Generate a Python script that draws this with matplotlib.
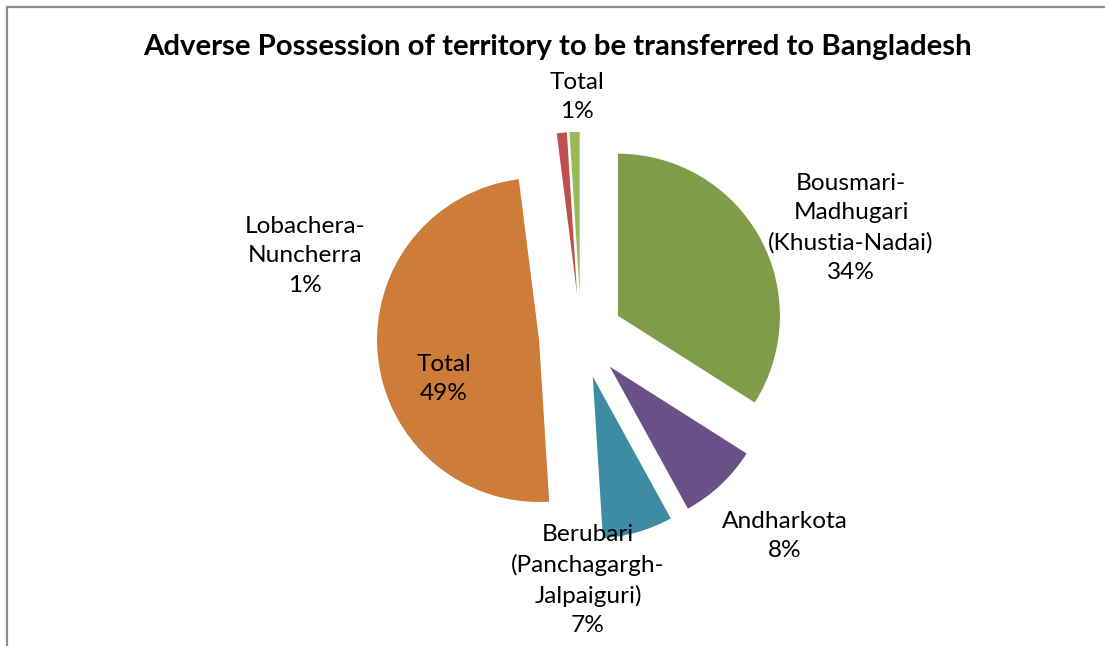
import matplotlib
matplotlib.use("Agg")
import matplotlib.pyplot as plt
from matplotlib.patches import Rectangle
import numpy as np

# Data (clockwise from 12 o'clock)
categories = ["Bousmari-\nMadhugari\n(Khustia-Nadai)", "Andharkota",
              "Berubari\n(Panchagargh-\nJalpaiguri)", "Total",
              "Lobachera-\nNuncherra", "Total"]
values = [34, 8, 7, 49, 1, 1]
colors = ["#7F9C49", "#6A5086", "#3D8CA3", "#CD7C3A", "#C0504D", "#9BBB59"]
pct_labels = ["34%", "8%", "7%", "49%", "1%", "1%"]

title = "Adverse Possession of territory to be transferred to Bangladesh"

W, H = 1105, 646
DPI = 100
fig = plt.figure(figsize=(W / DPI, H / DPI), dpi=DPI)
fig.patch.set_facecolor("white")

# pie geometry in pixels
cx, cy, R = 581, 336, 162
ax = fig.add_axes([0, 0, 1, 1])
ax.axis("off")

explode = [0.26] * len(values)
wedges, _ = ax.pie(values, colors=colors, startangle=90, counterclock=False,
                   explode=explode, radius=1.0, center=(0, 0), frame=False,
                   wedgeprops=dict(linewidth=0))
ax.set_xlim(-cx / R, (W - cx) / R)
ax.set_ylim(-(H - cy) / R, cy / R)
ax.set_aspect("auto")

font = "Lato"
label_px = [(851, 228), (785, 536), (588, 580), (444, 379), (305, 256), (577, 97)]
for cat, pct, (px, py) in zip(categories, pct_labels, label_px):
    ax.text((px - cx) / R, (cy - py) / R, f"{cat}\n{pct}", ha="center", va="center",
            fontsize=17.6, family=font, linespacing=1.5, color="black")

fig.text(557 / W, 1 - 47 / H, title, ha="center", va="center", fontsize=21.2,
         fontweight="bold", family=font)

# chart frame
fig.patches.append(Rectangle((6.5 / W, -0.1), 1.2, 1 - 6.5 / H + 0.1,
                             transform=fig.transFigure, fill=False,
                             edgecolor="#8C8C8C", linewidth=1.6))

fig.savefig("out.png", dpi=DPI)
